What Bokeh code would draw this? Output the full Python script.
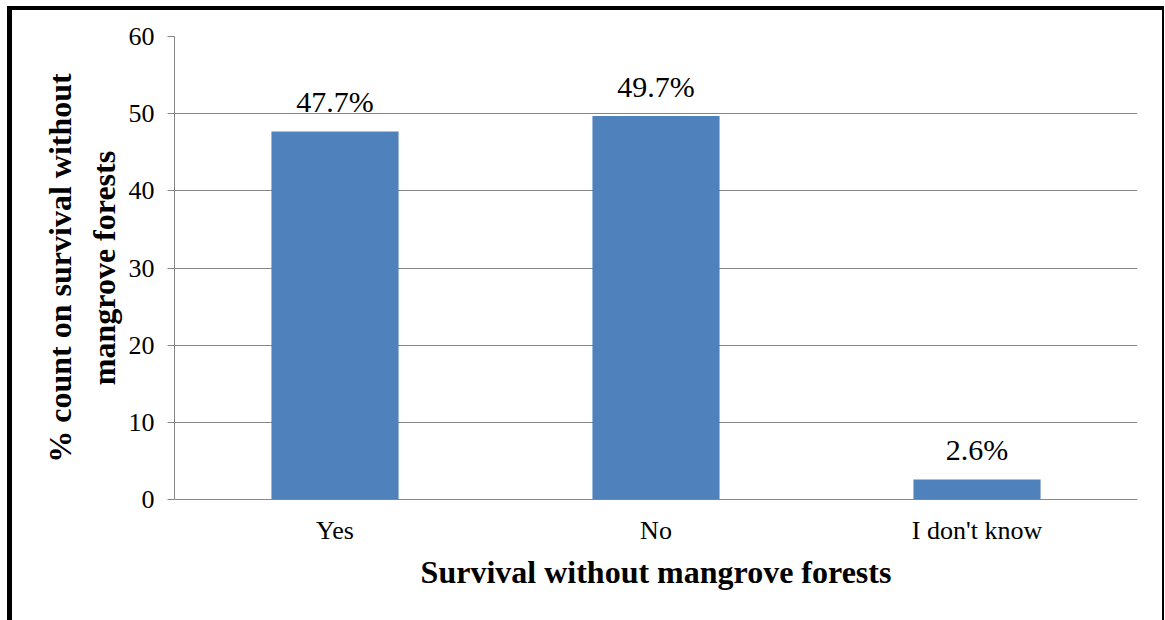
from bokeh.plotting import figure
from bokeh.models import (ColumnDataSource, LabelSet, FactorRange, Range1d,
                          FixedTicker, InlineStyleSheet)
from bokeh.core.properties import value
from bokeh.embed import file_html
from bokeh.resources import INLINE

# Survey answers and their share of respondents (%)
categories = ["Yes", "No", "I don't know"]
percent = [47.7, 49.7, 2.6]
value_labels = ["47.7%", "49.7%", "2.6%"]
y_ticks = [0, 10, 20, 30, 40, 50, 60]

SERIF = "Liberation Serif"
GRID = "#868686"
BAR = "#4F81BD"

src = ColumnDataSource(dict(cat=categories, pct=percent, txt=value_labels))

p = figure(
    width=1165, height=620,
    x_range=FactorRange(factors=categories),
    y_range=Range1d(0, 60),
    output_backend="svg", toolbar_location=None,
    min_border_left=174, min_border_right=28,
    min_border_top=36, min_border_bottom=121,
    background_fill_color="white", border_fill_color="white",
)
p.outline_line_color = None

p.vbar(x="cat", top="pct", bottom=0, width=0.396, source=src,
       fill_color=BAR, line_color=None)

p.add_layout(LabelSet(x="cat", y="pct", text="txt", source=src,
                      text_align="center", text_baseline="alphabetic",
                      y_offset=19, text_font=value(SERIF),
                      text_font_size="30px", text_color="black"))

# grid
p.xgrid.grid_line_color = None
p.ygrid.grid_line_color = GRID
p.ygrid.grid_line_width = 1

# y axis
p.yaxis.ticker = FixedTicker(ticks=y_ticks)
p.yaxis.axis_line_color = GRID
p.yaxis.major_tick_line_color = GRID
p.yaxis.major_tick_out = 7
p.yaxis.major_tick_in = 0
p.yaxis.minor_tick_line_color = None
p.yaxis.major_label_standoff = 13
p.yaxis.major_label_text_font = SERIF
p.yaxis.major_label_text_font_size = "26px"
p.yaxis.major_label_text_color = "black"
p.yaxis.axis_label = "% count on survival without\nmangrove forests"
p.yaxis.axis_label_text_font = SERIF
p.yaxis.axis_label_text_font_size = "32px"
p.yaxis.axis_label_text_font_style = "bold"
p.yaxis.axis_label_text_color = "black"
p.yaxis.axis_label_standoff = 4

# x axis
p.xaxis.axis_line_color = GRID
p.xaxis.major_tick_line_color = None
p.xaxis.minor_tick_line_color = None
p.xaxis.major_label_standoff = 10
p.xaxis.major_label_text_font = SERIF
p.xaxis.major_label_text_font_size = "26px"
p.xaxis.major_label_text_color = "black"
p.xaxis.axis_label = "Survival without mangrove forests"
p.xaxis.axis_label_text_font = SERIF
p.xaxis.axis_label_text_font_size = "32px"
p.xaxis.axis_label_text_font_style = "bold"
p.xaxis.axis_label_text_color = "black"
p.xaxis.axis_label_standoff = 6

# black frame drawn around the whole chart (open at the bottom edge)
p.stylesheets = [InlineStyleSheet(css="""
:host { position: relative; }
:host::after {
  content: "";
  position: absolute;
  left: 7px; top: 6px; right: 1px; bottom: -20px;
  border-left: 5px solid black;
  border-top: 4px solid black;
  border-right: 2px solid black;
  pointer-events: none;
  z-index: 10;
}
""")]

open("out.html", "w").write(file_html(p, INLINE))
